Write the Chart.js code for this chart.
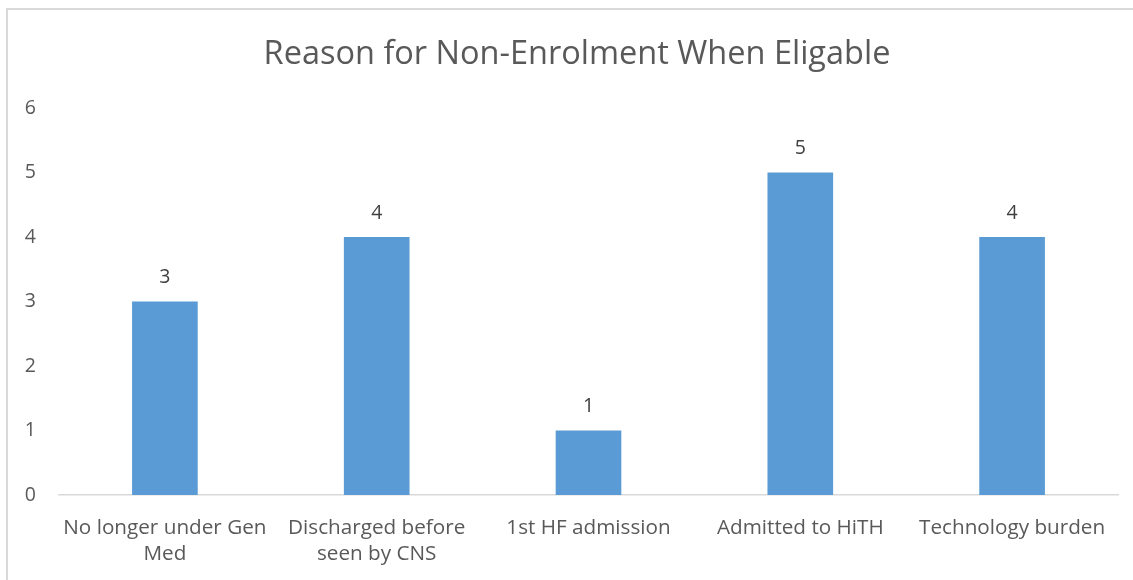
<!DOCTYPE html>
<html>
<head>
<meta charset="utf-8">
<title>Reason for Non-Enrolment When Eligable</title>
<script src="https://cdn.jsdelivr.net/npm/chart.js@4/dist/chart.umd.min.js"></script>
<style>
    html, body { margin: 0; padding: 0; background: #fff; }
    #wrap { position: relative; width: 1133px; height: 580px; }
    #frame {
        position: absolute; left: 6px; top: 8px; right: 0; bottom: 0;
        border-top: 2px solid #d9d9d9; border-left: 2px solid #d9d9d9;
        pointer-events: none;
    }
    canvas { position: absolute; left: 0; top: 0; }
</style>
</head>
<body>
<div id="wrap">
    <canvas id="reasonChart" width="1133" height="580"></canvas>
    <div id="frame"></div>
</div>
<script>
const chartTitle = 'Reason for Non-Enrolment When Eligable';
const reasons = [
    ['No longer under Gen', 'Med'],
    ['Discharged before', 'seen by CNS'],
    '1st HF admission',
    'Admitted to HiTH',
    'Technology burden'
];
const patientCounts = [3, 4, 1, 5, 4];
const yTicks = [0, 1, 2, 3, 4, 5, 6];

const FONT = '"Open Sans", Lato, sans-serif';
const TEXT = '#595959';

// title is centred on the outer frame, not the canvas, so draw it by hand
const frameTitle = {
    id: 'frameTitle',
    afterDraw(chart) {
        const ctx = chart.ctx;
        ctx.save();
        ctx.font = `32.5px ${FONT}`;
        ctx.fillStyle = TEXT;
        ctx.textAlign = 'center';
        ctx.textBaseline = 'middle';
        ctx.fillText(chartTitle, 577, 55);
        ctx.restore();
    }
};

// value above each bar
const barValues = {
    id: 'barValues',
    afterDatasetsDraw(chart) {
        const ctx = chart.ctx;
        const meta = chart.getDatasetMeta(0);
        ctx.save();
        ctx.font = `19.5px ${FONT}`;
        ctx.fillStyle = '#404040';
        ctx.textAlign = 'center';
        ctx.textBaseline = 'middle';
        meta.data.forEach((bar, i) => {
            ctx.fillText(String(patientCounts[i]), bar.x, bar.y - 24);
        });
        ctx.restore();
    }
};

new Chart(document.getElementById('reasonChart'), {
    type: 'bar',
    data: {
        labels: reasons,
        datasets: [{
            data: patientCounts,
            backgroundColor: '#5b9bd5',
            borderWidth: 0,
            categoryPercentage: 1,
            barPercentage: 0.31
        }]
    },
    options: {
        responsive: false,
        animation: false,
        layout: { padding: { top: 108, right: 15, bottom: 0, left: 0 } },
        plugins: {
            legend: { display: false },
            tooltip: { enabled: false },
            title: { display: false }
        },
        scales: {
            x: {
                grid: { display: false, drawTicks: false },
                border: { display: true, color: '#d9d9d9', width: 1.5 },
                ticks: {
                    color: TEXT,
                    font: { family: FONT, size: 20.7, lineHeight: 1.28 },
                    padding: 19.5,
                    maxRotation: 0,
                    autoSkip: false
                },
                afterFit(scale) { scale.height = 85; }
            },
            y: {
                min: 0,
                max: 6,
                afterBuildTicks(scale) {
                    scale.ticks = yTicks.map(v => ({ value: v }));
                },
                grid: { display: false, drawTicks: false },
                border: { display: false },
                ticks: {
                    color: TEXT,
                    font: { family: FONT, size: 19.5 },
                    padding: 23
                },
                afterFit(scale) { scale.width = 59; }
            }
        }
    },
    plugins: [barValues, frameTitle]
});
</script>
</body>
</html>
